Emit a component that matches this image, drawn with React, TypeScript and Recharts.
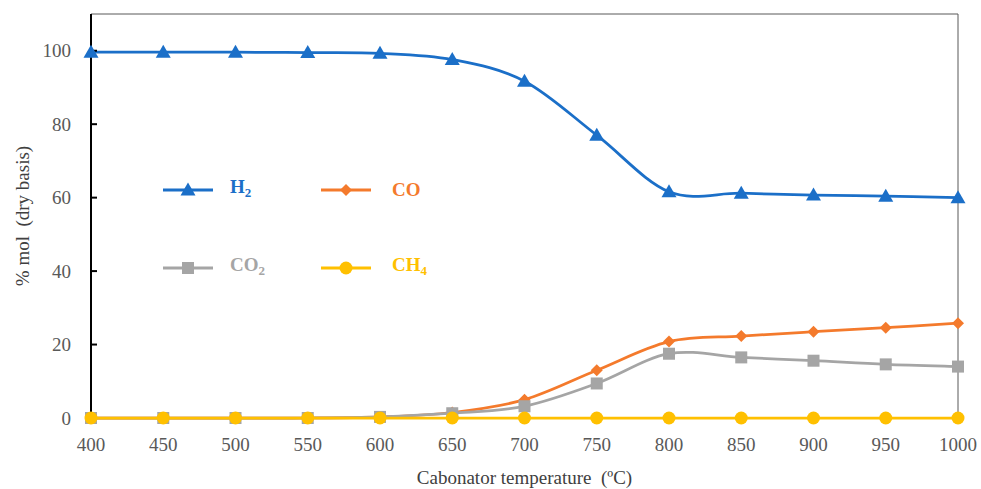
import React from "react";
import { LineChart, Line, XAxis, YAxis, ReferenceLine } from "recharts";

const temperatures = [400, 450, 500, 550, 600, 650, 700, 750, 800, 850, 900, 950, 1000];
const h2Values = [99.6, 99.6, 99.6, 99.5, 99.3, 97.6, 91.7, 77.0, 61.6, 61.2, 60.7, 60.4, 60.0];
const coValues = [0, 0, 0, 0, 0.3, 1.5, 5.0, 13.0, 20.8, 22.3, 23.5, 24.6, 25.8];
const co2Values = [0, 0, 0, 0, 0.3, 1.3, 3.2, 9.4, 17.5, 16.5, 15.6, 14.6, 14.0];
const ch4Values = [0, 0, 0, 0, 0, 0, 0, 0, 0, 0, 0, 0, 0];

const xTicks = [400, 450, 500, 550, 600, 650, 700, 750, 800, 850, 900, 950, 1000];
const yTicks = [0, 20, 40, 60, 80, 100];

const seriesKeys = ["h2", "co", "co2", "ch4"];
const seriesNames: [string, string][] = [
  ["H", "2"],
  ["CO", ""],
  ["CO", "2"],
  ["CH", "4"],
];
const seriesColors = ["#1B6FC8", "#F47A2C", "#A5A5A5", "#FFC000"];
const seriesMarkers = ["triangle", "diamond", "square", "circle"];

const data = temperatures.map((t, i) => ({
  t,
  h2: h2Values[i],
  co: coValues[i],
  co2: co2Values[i],
  ch4: ch4Values[i],
}));

const serif = "'Liberation Serif', 'Times New Roman', serif";

// Excel-like smoothed line (Catmull-Rom through the points)
function excelSmooth(context: any) {
  let pts: number[][] = [];
  return {
    areaStart() {},
    areaEnd() {},
    lineStart() {
      pts = [];
    },
    point(x: number, y: number) {
      pts.push([+x, +y]);
    },
    lineEnd() {
      const n = pts.length;
      if (!n) return;
      context.moveTo(pts[0][0], pts[0][1]);
      for (let i = 0; i < n - 1; i++) {
        const p0 = pts[Math.max(i - 1, 0)];
        const p1 = pts[i];
        const p2 = pts[i + 1];
        const p3 = pts[Math.min(i + 2, n - 1)];
        context.bezierCurveTo(
          p1[0] + (p2[0] - p0[0]) / 6,
          p1[1] + (p2[1] - p0[1]) / 6,
          p2[0] - (p3[0] - p1[0]) / 6,
          p2[1] - (p3[1] - p1[1]) / 6,
          p2[0],
          p2[1]
        );
      }
    },
  };
}

const Marker = ({ kind, cx, cy, color }: { kind: string; cx: number; cy: number; color: string }) => {
  if (kind === "triangle") {
    return <path d={`M${cx},${cy - 7.5} L${cx + 7.5},${cy + 5.5} L${cx - 7.5},${cy + 5.5} Z`} fill={color} />;
  }
  if (kind === "diamond") {
    return <path d={`M${cx},${cy - 6} L${cx + 6},${cy} L${cx},${cy + 6} L${cx - 6},${cy} Z`} fill={color} />;
  }
  if (kind === "square") {
    return <rect x={cx - 6} y={cy - 6} width={12} height={12} fill={color} />;
  }
  return <circle cx={cx} cy={cy} r={6.5} fill={color} />;
};

const LegendOverlay = () => {
  const cols = [163, 321];
  const rows = [190, 268];
  return (
    <>
      {seriesKeys.map((key, i) => {
        const left = cols[i % 2];
        const top = rows[Math.floor(i / 2)];
        const color = seriesColors[i];
        return (
          <div key={key} style={{ position: "absolute", left, top: top - 12, height: 24, display: "flex", alignItems: "center" }}>
            <svg width={50} height={24} style={{ display: "block" }}>
              <line x1={0} y1={12} x2={50} y2={12} stroke={color} strokeWidth={3} />
              <Marker kind={seriesMarkers[i]} cx={25} cy={12} color={color} />
            </svg>
            <span
              style={{
                marginLeft: i % 2 === 0 ? 17 : 21,
                color,
                fontFamily: serif,
                fontWeight: "bold",
                fontSize: 19,
                lineHeight: "24px",
                whiteSpace: "nowrap",
              }}
            >
              {seriesNames[i][0]}
              {seriesNames[i][1] && <sub style={{ fontSize: 13, verticalAlign: "-4px" }}>{seriesNames[i][1]}</sub>}
            </span>
          </div>
        );
      })}
    </>
  );
};

export default function App() {
  return (
    <div style={{ position: "absolute", left: 0, top: 0, width: 981, height: 489, background: "#fff" }}>
      <LineChart width={981} height={489} data={data} margin={{ top: 14, right: 23, bottom: 0, left: 0 }}>
        <ReferenceLine y={110} stroke="#595959" strokeWidth={1} />
        <ReferenceLine x={1000} stroke="#595959" strokeWidth={1} />
        <XAxis
          dataKey="t"
          type="number"
          domain={[400, 1000]}
          ticks={xTicks}
          height={71}
          tickLine={false}
          tickSize={0}
          tickMargin={20}
          axisLine={false}
          tick={{ fill: "#595959", fontSize: 19, fontFamily: serif }}
          label={(props: any) => {
            const vb = props.viewBox;
            return (
              <text x={vb.x + vb.width / 2} y={vb.y + 66} textAnchor="middle" fill="#404040" fontSize={19} fontFamily={serif}>
                {"Cabonator temperature\u00a0\u00a0(ºC)"}
              </text>
            );
          }}
        />
        <YAxis
          type="number"
          domain={[0, 110]}
          ticks={yTicks}
          width={91}
          tickSize={-6}
          tickMargin={26}
          axisLine={{ stroke: "#000", strokeWidth: 2 }}
          tickLine={{ stroke: "#000", strokeWidth: 2 }}
          tick={{ fill: "#595959", fontSize: 19, fontFamily: serif }}
          label={(props: any) => {
            const vb = props.viewBox;
            const cx = vb.x + 22;
            const cy = vb.y + vb.height / 2;
            return (
              <text x={cx} y={cy} transform={`rotate(-90 ${cx} ${cy})`} textAnchor="middle" dominantBaseline="central" fill="#404040" fontSize={19} fontFamily={serif}>
                {"% mol\u00a0\u00a0(dry basis)"}
              </text>
            );
          }}
        />
        {seriesKeys.map((key, i) => (
          <Line
            key={key}
            dataKey={key}
            type={excelSmooth as any}
            stroke={seriesColors[i]}
            strokeWidth={2.75}
            isAnimationActive={false}
            dot={(p: any) => <Marker key={`${key}-${p.index}`} kind={seriesMarkers[i]} cx={p.cx} cy={p.cy} color={seriesColors[i]} />}
            activeDot={false}
          />
        ))}
      </LineChart>
      <LegendOverlay />
    </div>
  );
}
